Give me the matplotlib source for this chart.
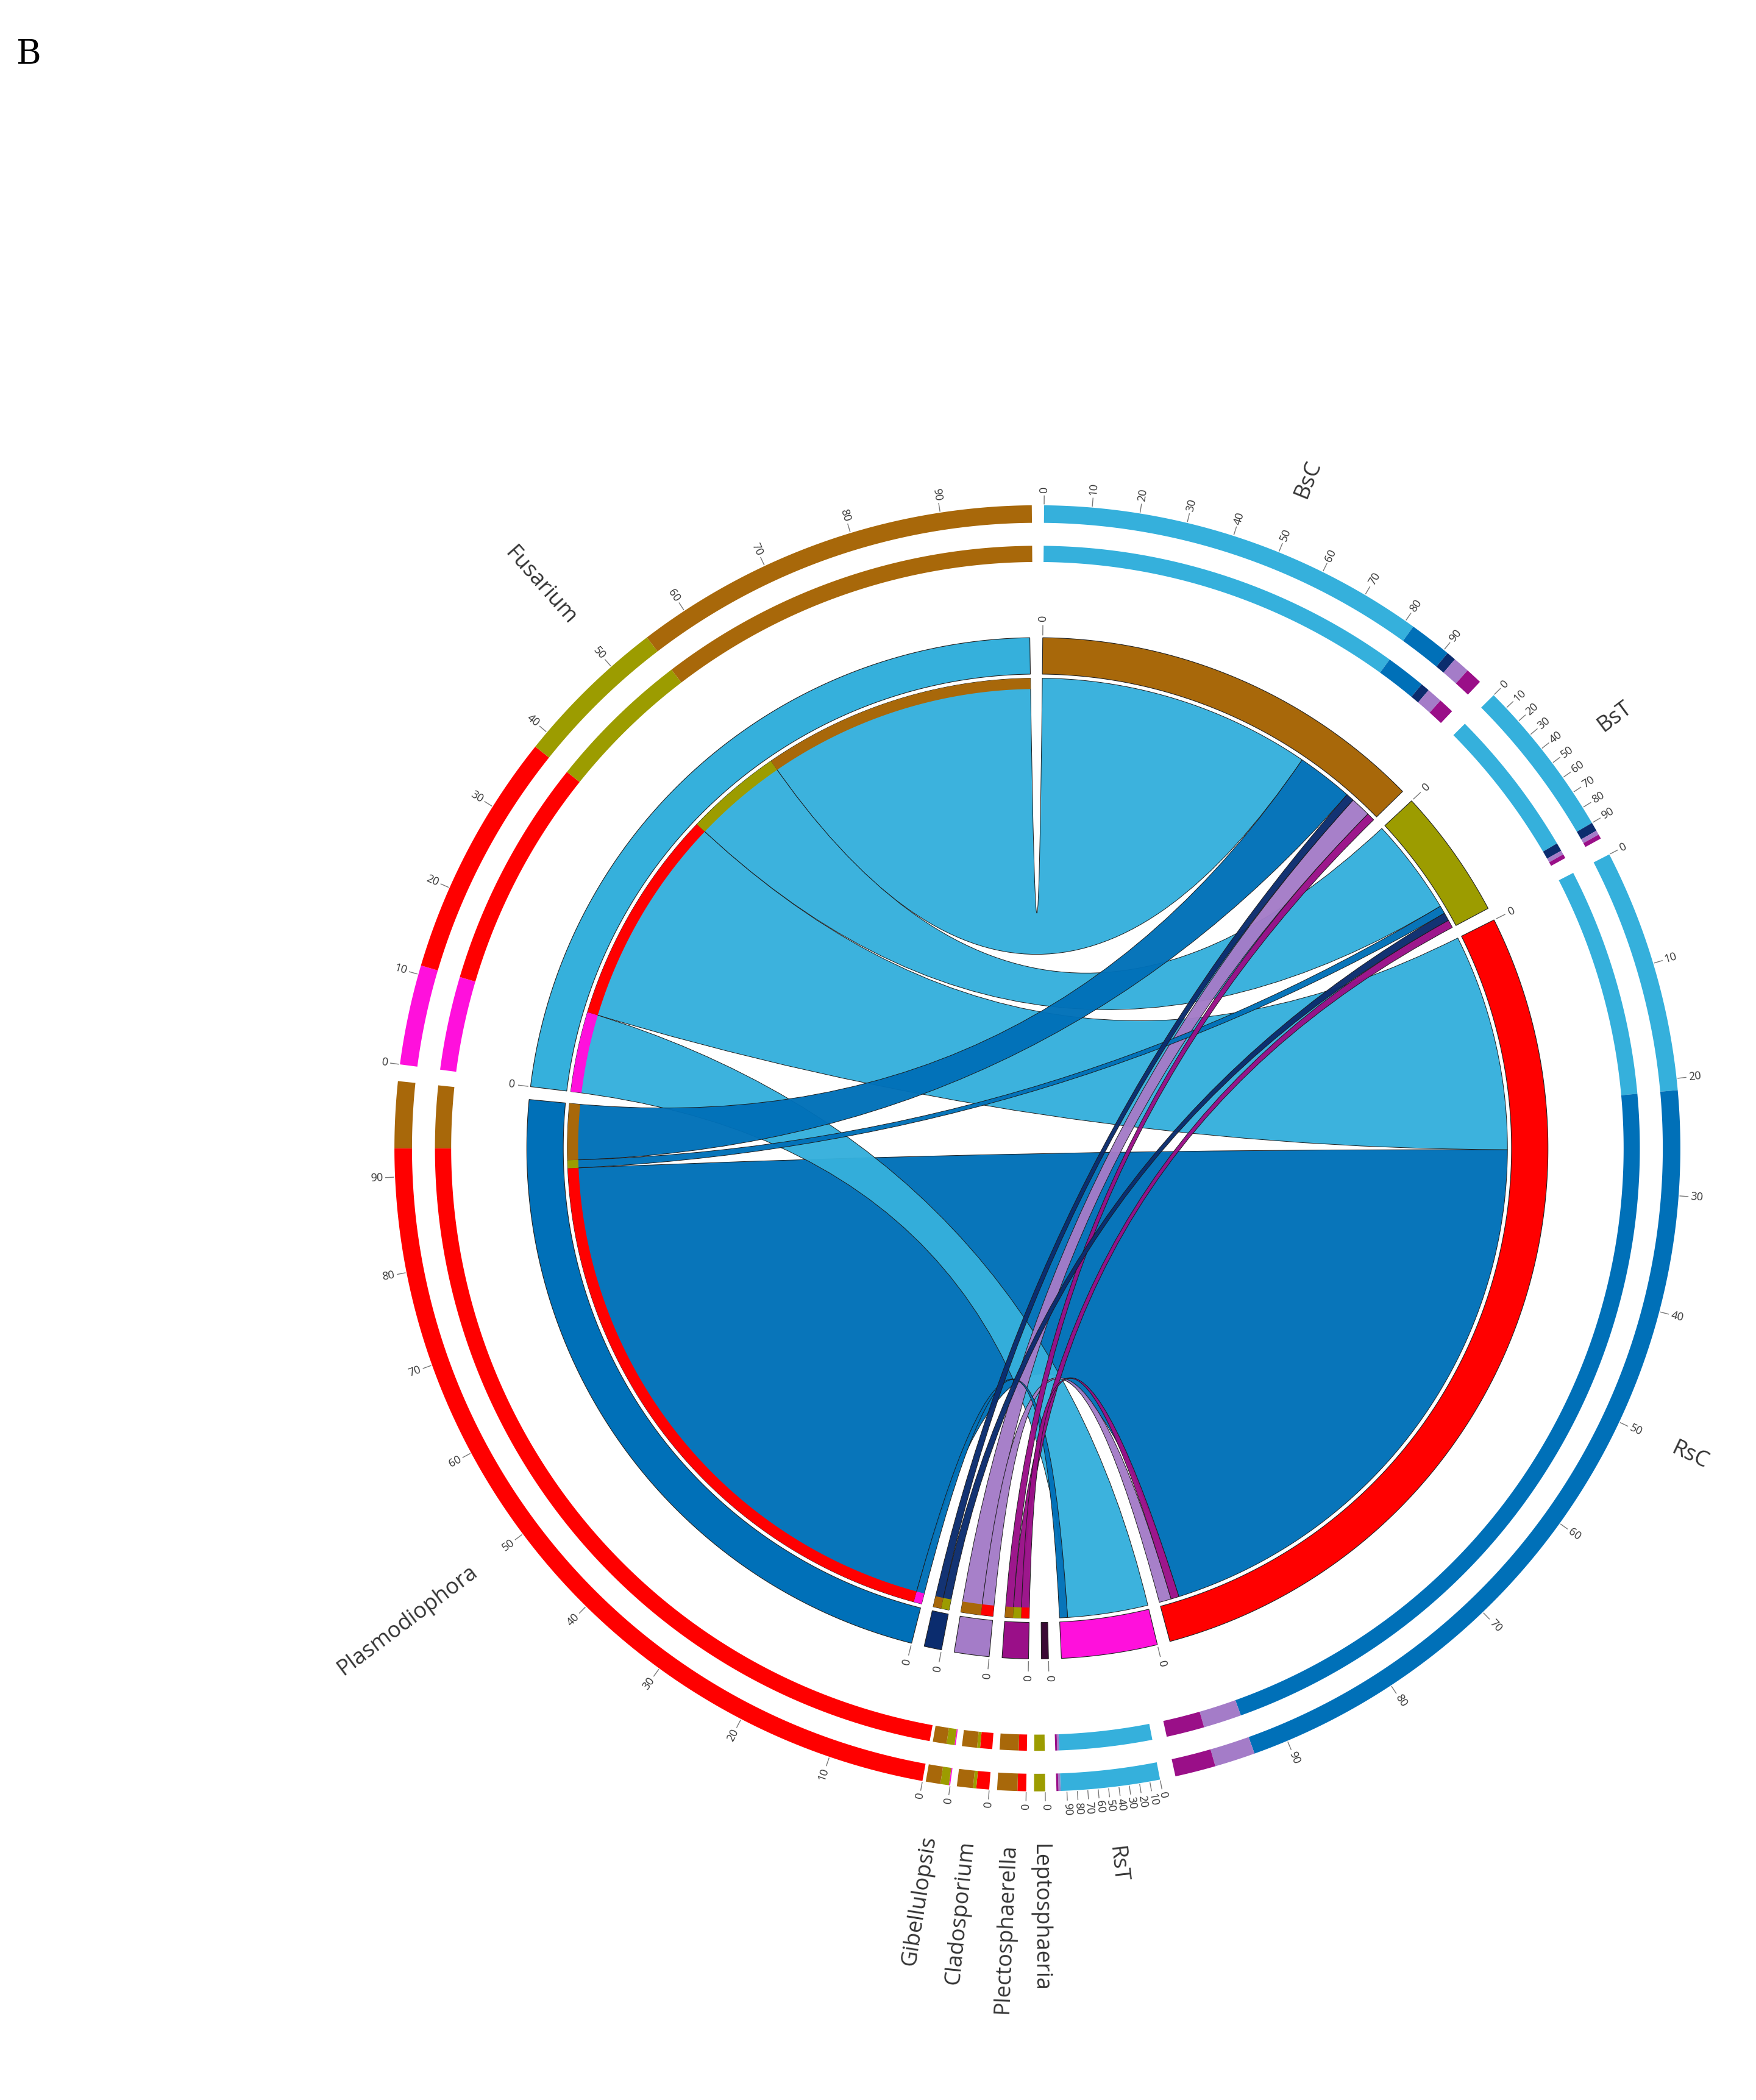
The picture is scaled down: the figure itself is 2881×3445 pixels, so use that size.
import numpy as np
import matplotlib
matplotlib.use("Agg")
import matplotlib.pyplot as plt
from matplotlib.patches import Polygon, PathPatch
from matplotlib.path import Path

# ---------------- data ----------------
C = {"lb": "#35B0DC", "db": "#0070B8", "navy": "#0B2C6E", "lilac": "#A47CC8",
     "purple": "#9A0F88", "dark": "#3A0A35", "brown": "#A8680A", "olive": "#9C9C00",
     "red": "#FF0000", "mag": "#FF10DC"}

# outer sectors: name, start angle, end angle (deg clockwise from top)
outer_names = ["BsC", "BsT", "RsC", "RsT", "Leptosphaeria", "Plectosphaerella",
               "Cladosporium", "Gibellulopsis", "Plasmodiophora", "Fusarium"]
outer_start = [0.6, 45.2, 62.8, 169.0, 179.3, 181.0, 184.3, 187.8, 190.3, 277.5]
outer_end = [43.5, 61.2, 167.6, 178.3, 180.3, 183.6, 187.2, 190.0, 276.0, 359.5]
# composition (colour key, percent) clockwise
outer_comp = [
    [("lb", 82), ("db", 9), ("navy", 2), ("lilac", 3.5), ("purple", 3.5)],
    [("lb", 90), ("navy", 5), ("lilac", 2.5), ("purple", 2.5)],
    [("lb", 21), ("db", 72), ("lilac", 3.5), ("purple", 3.5)],
    [("lb", 96), ("lilac", 2), ("purple", 2)],
    [("olive", 100)],
    [("red", 30), ("brown", 70)],
    [("red", 40), ("olive", 10), ("brown", 50)],
    [("mag", 5), ("olive", 35), ("brown", 60)],
    [("red", 93), ("brown", 7)],
    [("mag", 11), ("red", 27), ("olive", 17), ("brown", 45)],
]

# inner chord diagram nodes (clockwise order) and colours
inner_nodes = ["gBrown", "gOlive", "gRed", "gMag", "sDark", "sPurple", "sLilac", "sNavy", "sRsC", "sBsC"]
inner_col = ["brown", "olive", "red", "mag", "dark", "purple", "lilac", "navy", "db", "lb"]
dark_size = 0.8
# links: (sample node, genus node, value)
link_src = ["sBsC", "sBsC", "sBsC", "sBsC", "sRsC", "sRsC", "sRsC", "sRsC",
            "sLilac", "sLilac", "sPurple", "sPurple", "sPurple", "sNavy", "sNavy"]
link_dst = ["gBrown", "gOlive", "gRed", "gMag", "gRed", "gBrown", "gOlive", "gMag",
            "gBrown", "gRed", "gBrown", "gOlive", "gRed", "gBrown", "gOlive"]
link_val = [34, 12, 27, 10, 73, 7, 1, 1, 2.5, 1.5, 1, 1, 1, 1, 1]
# clockwise order of link ends within each node
node_order = {
    "gBrown": [0, 5, 13, 8, 10], "gOlive": [1, 6, 14, 11], "gRed": [2, 4, 12, 9],
    "gMag": [3, 7], "sDark": [], "sPurple": [12, 11, 10], "sLilac": [9, 8],
    "sNavy": [14, 13], "sRsC": [7, 4, 6, 5], "sBsC": [3, 2, 1, 0],
}

# ---------------- geometry ----------------
W, H = 1300.0, 3445 / 2.2162
cx, cy = 768.0, 850.0
fig = plt.figure(figsize=(28.81, 34.45), dpi=100)
ax = fig.add_axes([0, 0, 1, 1])
ax.set_xlim(0, W); ax.set_ylim(H, 0); ax.axis("off")


def pt(r, t):
    t = np.radians(t)
    return cx + r * np.sin(t), cy - r * np.cos(t)


def arc(r, a, b, n=None):
    n = n or max(4, int(abs(b - a) * 3))
    ts = np.linspace(a, b, n)
    return np.array([pt(r, t) for t in ts])


def band(r0, r1, a, b, color, ec="none", lw=0):
    p = np.vstack([arc(r1, a, b), arc(r0, b, a)])
    ax.add_patch(Polygon(p, closed=True, fc=color, ec=ec, lw=lw))


def radial_text(r, t, s, size, color="#333333"):
    rot = 90 - t
    ha = "left"
    while rot <= -90: rot += 360
    while rot > 270: rot -= 360
    if rot > 90:
        rot -= 180; ha = "right"
    x, y = pt(r, t)
    ax.text(x, y, s, rotation=rot, rotation_mode="anchor", ha=ha, va="center",
            fontsize=size, color=color, family="Open Sans")


# ---------------- outer rings ----------------
R1 = (463, 476); R2 = (434, 446)
for i, name in enumerate(outer_names):
    a0, a1 = outer_start[i], outer_end[i]
    span = a1 - a0
    acc = 0
    for key, pc in outer_comp[i]:
        s = a0 + span * acc / 100; e = a0 + span * (acc + pc) / 100
        band(*R1, s, e, C[key]); band(*R2, s, e, C[key])
        acc += pc
    ticks = range(0, 100, 10) if span > 8 else [0]
    for v in ticks:
        t = a0 + span * v / 100
        p0, p1 = pt(477, t), pt(483, t)
        ax.plot([p0[0], p1[0]], [p0[1], p1[1]], color="#777777", lw=1)
        radial_text(485, t, str(v), 13)
    radial_text(520 if span > 8 else 515, (a0 + a1) / 2, name, 26)

# ---------------- inner chord diagram ----------------
gap = 1.45
sizes = []
for n in inner_nodes:
    v = sum(link_val[k] for k in node_order[n])
    sizes.append(v if v > 0 else dark_size)
scale = (360 - gap * len(inner_nodes)) / sum(sizes)
node_start = {}
a = 0.6
for n, s in zip(inner_nodes, sizes):
    node_start[n] = (a, a + s * scale)
    a += s * scale + gap

end_pos = {}
for n in inner_nodes:
    a = node_start[n][0]
    for k in node_order[n]:
        w = link_val[k] * scale
        end_pos[(n, k)] = (a, a + w)
        a += w

RC = 348
ring_in, ring_out = 351, 378
# chords, biggest first
for k in sorted(range(len(link_val)), key=lambda k: -link_val[k]):
    s, d = link_src[k], link_dst[k]
    a1, a2 = end_pos[(s, k)]
    b1, b2 = end_pos[(d, k)]
    verts, codes = [], []
    A = arc(RC, a1, a2)
    verts += list(A); codes += [Path.MOVETO] + [Path.LINETO] * (len(A) - 1)
    verts += [(cx, cy), pt(RC, b1)]; codes += [Path.CURVE3] * 2
    B = arc(RC, b1, b2)
    verts += list(B[1:]); codes += [Path.LINETO] * (len(B) - 1)
    verts += [(cx, cy), pt(RC, a1)]; codes += [Path.CURVE3] * 2
    col = C[inner_col[inner_nodes.index(s)]]
    ax.add_patch(PathPatch(Path(verts, codes), fc=col, ec="#1a1a1a", lw=0.7, alpha=0.97))

# inner stripe showing genus of each link on sample nodes
for n in inner_nodes:
    if n.startswith("s"):
        for k in node_order[n]:
            s, e = end_pos[(n, k)]
            g = link_dst[k]
            band(340, RC, s, e, C[inner_col[inner_nodes.index(g)]])

for n, col in zip(inner_nodes, inner_col):
    s, e = node_start[n]
    band(ring_in, ring_out, s, e, C[col], ec="#222222", lw=0.8)
    p0, p1 = pt(380, s), pt(387, s)
    ax.plot([p0[0], p1[0]], [p0[1], p1[1]], color="#777777", lw=1)
    radial_text(390, s, "0", 13)

ax.text(12, 40, "B", fontsize=40, family="DejaVu Serif", va="center", ha="left")
fig.savefig("out.png", dpi=100)
